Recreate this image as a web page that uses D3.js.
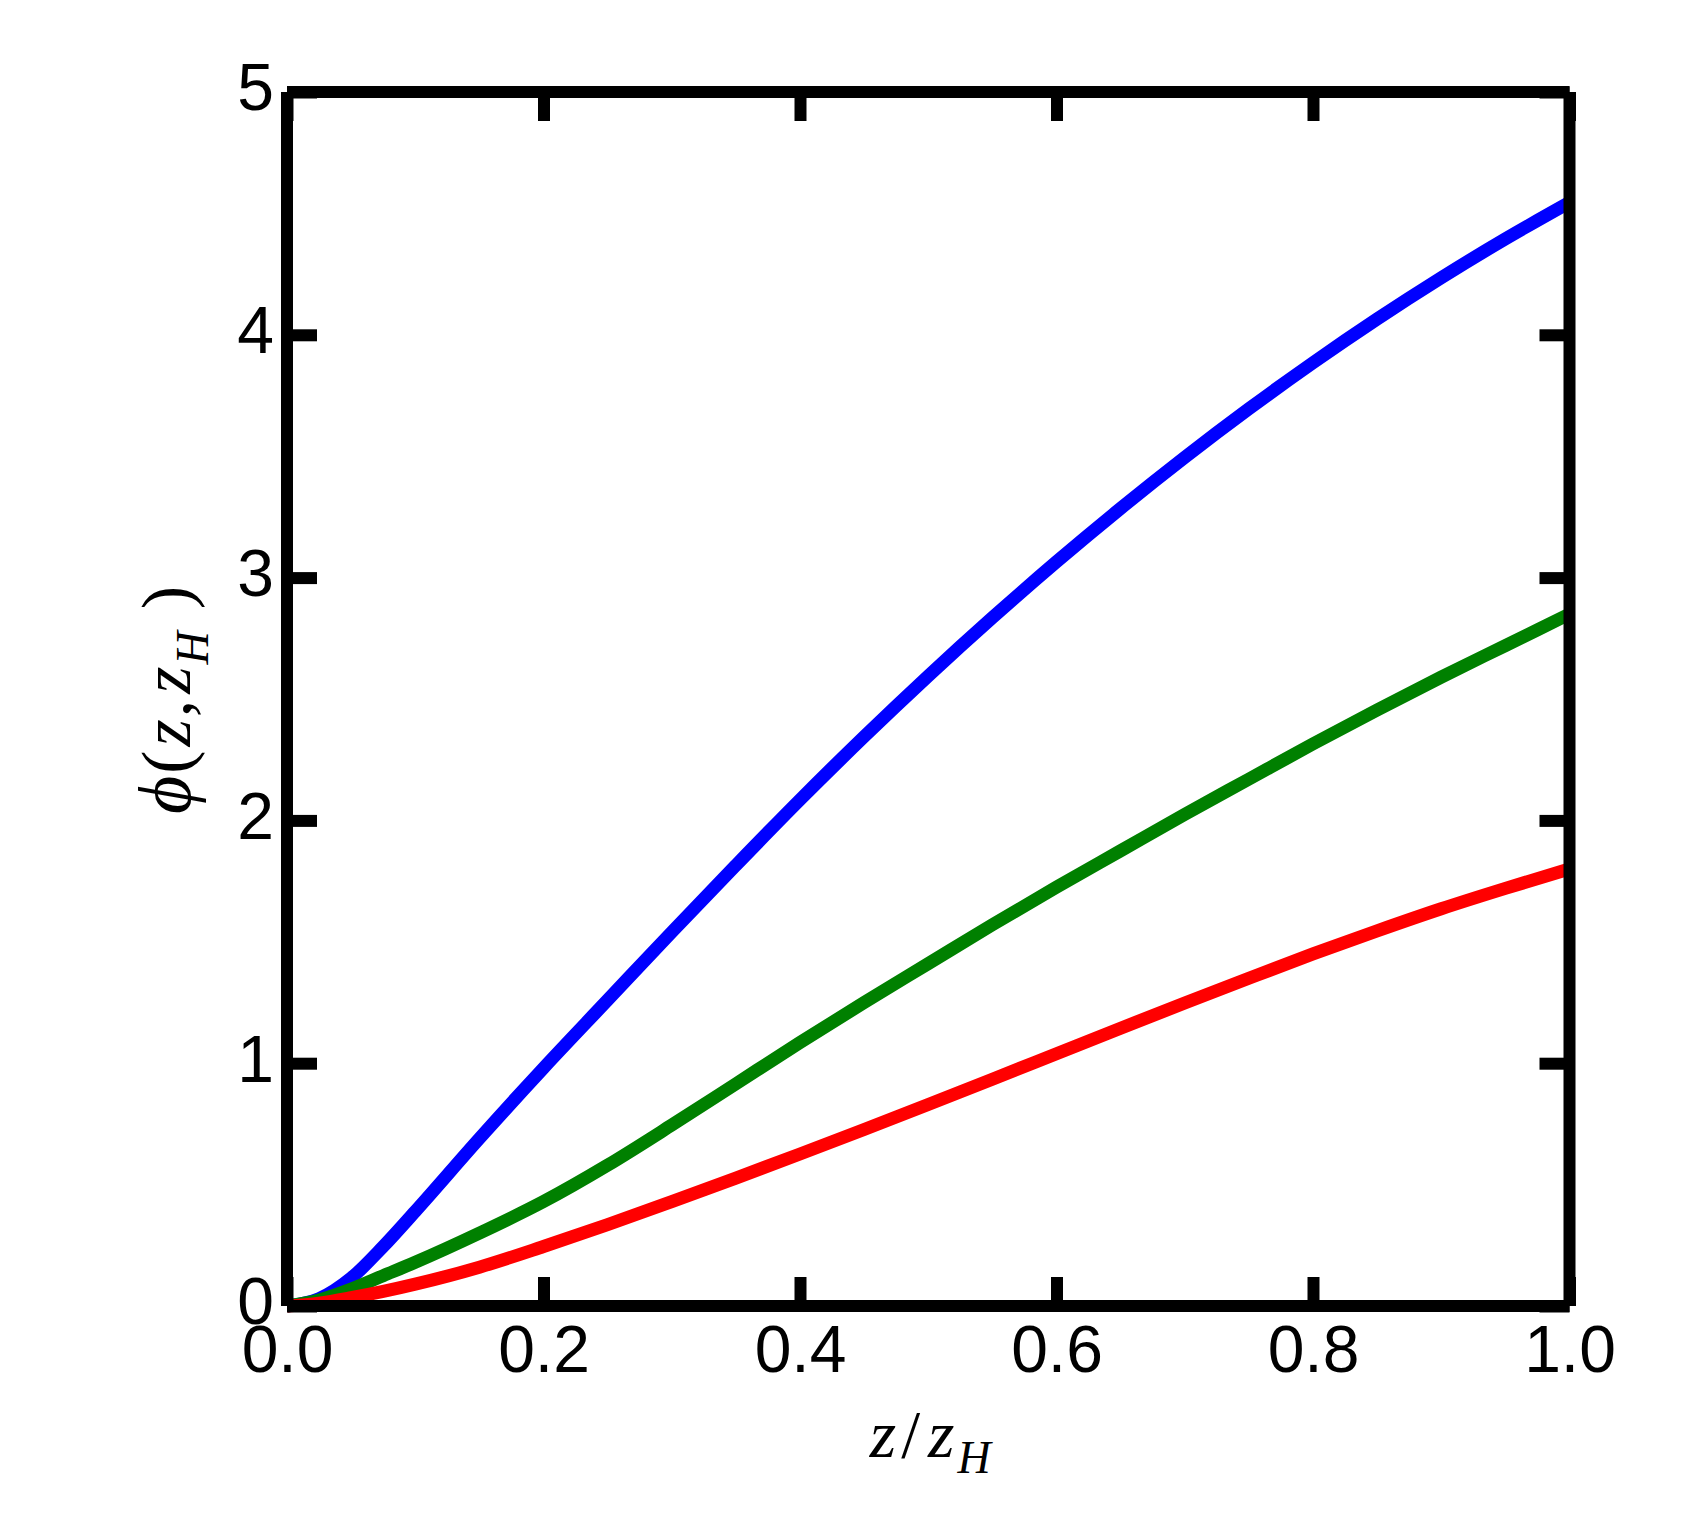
<!DOCTYPE html>
<html>
<head>
<meta charset="utf-8">
<script src="https://cdn.jsdelivr.net/npm/d3@7"></script>
<style>
  html, body { margin: 0; padding: 0; background: #ffffff; }
  svg { display: block; }
</style>
</head>
<body>
<svg id="chart" width="1687" height="1537"></svg>
<script>
// ---- data ----
const zValues = [0, 0.025, 0.05, 0.075, 0.1, 0.15, 0.2, 0.25, 0.3, 0.35, 0.4, 0.45, 0.5, 0.55, 0.6, 0.65, 0.7, 0.75, 0.8, 0.85, 0.9, 0.95, 1.0];
const phiBlue  = [0, 0.03, 0.115, 0.245, 0.39, 0.69, 0.98, 1.26, 1.54, 1.815, 2.085, 2.345, 2.595, 2.835, 3.065, 3.285, 3.495, 3.695, 3.885, 4.065, 4.235, 4.395, 4.545];
const phiGreen = [0, 0.025, 0.07, 0.125, 0.18, 0.30, 0.43, 0.58, 0.745, 0.915, 1.085, 1.25, 1.41, 1.57, 1.725, 1.875, 2.025, 2.17, 2.315, 2.455, 2.59, 2.72, 2.85];
const phiRed   = [0, 0.012, 0.034, 0.06, 0.09, 0.16, 0.245, 0.335, 0.43, 0.527, 0.626, 0.727, 0.83, 0.934, 1.039, 1.144, 1.248, 1.35, 1.45, 1.545, 1.636, 1.72, 1.80];
const seriesColors = ["#0000ff", "#008000", "#ff0000"];
const xTickValues = [0, 0.2, 0.4, 0.6, 0.8, 1.0];
const yTickValues = [0, 1, 2, 3, 4, 5];

// ---- layout ----
const plotLeft = 287, plotRight = 1569.5, plotTop = 92, plotBottom = 1306;
const svg = d3.select("#chart");
svg.append("rect").attr("width", 1687).attr("height", 1537).attr("fill", "#fff");

const x = d3.scaleLinear().domain([0, 1]).range([plotLeft, plotRight]);
const y = d3.scaleLinear().domain([0, 5]).range([plotBottom, plotTop]);

// ---- curves ----
const series = [phiBlue, phiGreen, phiRed];
const line = d3.line()
  .x((d, i) => x(zValues[i]))
  .y(d => y(d))
  .curve(d3.curveMonotoneX);

svg.append("g").selectAll("path")
  .data(series)
  .join("path")
  .attr("d", d => line(d))
  .attr("fill", "none")
  .attr("stroke", (d, i) => seriesColors[i])
  .attr("stroke-width", 13)
  .attr("stroke-linejoin", "round");

// ---- axes (inner ticks) ----
const tickFont = "'Liberation Sans', Arial, Helvetica, sans-serif";
const fs = 66;

function styleAxis(g) {
  g.select(".domain").remove();
  g.selectAll(".tick line").attr("stroke", "#000").attr("stroke-width", 12).attr("stroke-linecap", "butt");
  g.selectAll(".tick text").attr("fill", "#000").attr("font-family", tickFont).attr("font-size", fs);
}

const gBottom = svg.append("g").attr("transform", `translate(0,${plotBottom})`)
  .call(d3.axisBottom(x).tickValues(xTickValues).tickFormat(d3.format(".1f"))
    .tickSizeInner(-29).tickSizeOuter(0).tickPadding(19));
styleAxis(gBottom);

const gTop = svg.append("g").attr("transform", `translate(0,${plotTop})`)
  .call(d3.axisTop(x).tickValues(xTickValues).tickFormat("")
    .tickSizeInner(-29).tickSizeOuter(0));
styleAxis(gTop);

const gLeft = svg.append("g").attr("transform", `translate(${plotLeft},0)`)
  .call(d3.axisLeft(y).tickValues(yTickValues).tickFormat(d3.format("d"))
    .tickSizeInner(-30).tickSizeOuter(0).tickPadding(13));
styleAxis(gLeft);
gLeft.selectAll(".tick text").attr("dy", "0.27em");

const gRight = svg.append("g").attr("transform", `translate(${plotRight},0)`)
  .call(d3.axisRight(y).tickValues(yTickValues).tickFormat("")
    .tickSizeInner(-30).tickSizeOuter(0));
styleAxis(gRight);

// ---- frame (separate butt-capped sides) ----
const frame = svg.append("g").attr("stroke", "#000").attr("stroke-width", 12).attr("stroke-linecap", "butt");
frame.append("line").attr("x1", x(0)).attr("x2", x(1)).attr("y1", y(5)).attr("y2", y(5));
frame.append("line").attr("x1", x(0)).attr("x2", x(1)).attr("y1", y(0)).attr("y2", y(0));
frame.append("line").attr("x1", x(0)).attr("x2", x(0)).attr("y1", y(5)).attr("y2", y(0));
frame.append("line").attr("x1", x(1)).attr("x2", x(1)).attr("y1", y(5)).attr("y2", y(0));

// ---- axis titles ----
const serif = "'Liberation Serif', 'Times New Roman', 'DejaVu Serif', serif";
const xt = svg.append("text")
  .attr("x", (plotLeft + plotRight) / 2 + 2).attr("y", 1457)
  .attr("text-anchor", "middle")
  .attr("font-family", serif).attr("font-size", 68).attr("fill", "#000");
xt.append("tspan").attr("font-style", "italic").text("z");
xt.append("tspan").attr("dx", 5).text("/");
xt.append("tspan").attr("dx", 8).attr("font-style", "italic").text("z");
xt.append("tspan").attr("font-style", "italic").attr("font-size", 46).attr("dx", 3).attr("dy", 16).text("H");

const yt = svg.append("text")
  .attr("transform", `translate(190,${(plotTop + plotBottom) / 2 + 1}) rotate(-90)`)
  .attr("text-anchor", "middle")
  .attr("font-family", serif).attr("font-size", 70).attr("fill", "#000");
yt.append("tspan").attr("font-style", "italic").attr("font-size", 74).text("\u03D5");
yt.append("tspan").attr("dx", 2).text("(");
yt.append("tspan").attr("dx", 4).attr("font-style", "italic").text("z");
yt.append("tspan").attr("dx", 2).text(",");
yt.append("tspan").attr("dx", 6).attr("font-style", "italic").text("z");
yt.append("tspan").attr("font-style", "italic").attr("font-size", 46).attr("dx", 2).attr("dy", 18).text("H");
yt.append("tspan").attr("dx", 22).attr("dy", -18).text(")");
</script>
</body>
</html>
